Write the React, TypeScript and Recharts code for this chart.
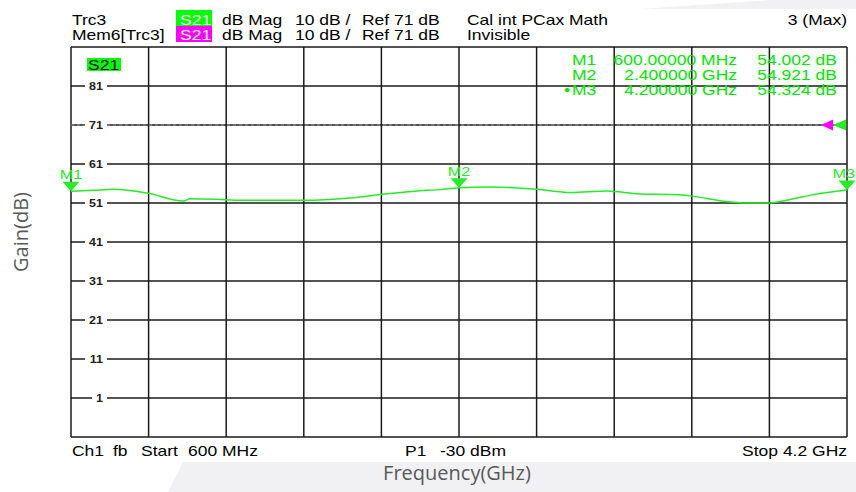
import React from "react";
import {
  LineChart,
  Line,
  XAxis,
  YAxis,
  CartesianGrid,
  ReferenceDot,
  ReferenceLine,
} from "recharts";

// trace
const freqGHz = [
  0.6, 0.705, 0.798, 0.953, 1.122, 1.153, 1.277, 1.385, 1.679, 1.895, 2.035,
  2.205, 2.313, 2.4, 2.545, 2.761, 2.917, 3.086, 3.24, 3.395, 3.488, 3.627,
  3.735, 3.828, 3.936, 4.044, 4.2,
];
const gainDb = [
  54.0, 54.25, 54.5, 53.56, 51.5, 52.1, 51.95, 51.7, 51.7, 52.3, 53.15, 54.1,
  54.43, 54.92, 55.1, 54.5, 53.67, 54.08, 53.3, 53.15, 52.7, 51.45, 51.0, 51.0,
  51.9, 53.15, 54.32,
];

const yTicks = [-9, 1, 11, 21, 31, 41, 51, 61, 71, 81, 91];
const xTicks = [0.6, 0.96, 1.32, 1.68, 2.04, 2.4, 2.76, 3.12, 3.48, 3.84, 4.2];
const refLevel = 71;

const markerNames = ["M1", "M2", "M3"];
const markerFreq = [0.6, 2.4, 4.2];
const markerGain = [54.002, 54.921, 54.324];
const markerFreqText = ["600.00000 MHz", "2.400000 GHz", "4.200000 GHz"];

const data = freqGHz.map((f, i) => ({ f, g: gainDb[i] }));

const GREEN = "#22ee22";
const TXT = "#00e600";
const FONT = "'Liberation Sans', Arial, sans-serif";

// screen font on the VNA is wider than Arial, so stretch it a bit
const ST = ({ x, y, anchor = "start", size = 14, fill = "#000", weight = "normal", children }: any) => (
  <text
    transform={`translate(${x} ${y}) scale(1.25 1)`}
    textAnchor={anchor}
    fontSize={size}
    fontFamily={FONT}
    fontWeight={weight}
    fill={fill}
  >
    {children}
  </text>
);

const GainTick = ({ x, y, payload }: any) => {
  const v = payload.value;
  if (v < 0 || v > 85) return null;
  const label = String(v);
  const w = 8 + label.length * 7;
  return (
    <g>
      <rect x={x + 36 - w} y={y - 2} width={w} height={4} fill="#fff" />
      <ST x={x + 32} y={y + 3.5} anchor="end" size={10} weight="bold" fill="#222">
        {label}
      </ST>
    </g>
  );
};

const MarkerShape = ({ cx, cy, name, last }: any) => (
  <g>
    <polygon points={`${cx - 8.5},${cy - 9.5} ${cx + 8.5},${cy - 9.5} ${cx},${cy}`} fill={GREEN} />
    <ST x={last ? 855 : cx} y={cy - 12} anchor={last ? "end" : "middle"} size={13} fill={GREEN}>
      {name}
    </ST>
  </g>
);

const RefArrows = ({ cx, cy }: any) => (
  <g>
    <polygon points={`${cx - 26},${cy} ${cx - 14},${cy - 5.5} ${cx - 14},${cy + 5.5}`} fill="#ff00ff" />
    <polygon points={`${cx - 14},${cy} ${cx - 1},${cy - 5.5} ${cx - 1},${cy + 5.5}`} fill={GREEN} />
  </g>
);

const vGrid = ({ xAxis, offset }: any) =>
  xAxis && typeof xAxis.scale === "function"
    ? xTicks.map((t) => xAxis.scale(t))
    : xTicks.map((t) => offset.left + ((t - 0.6) / 3.6) * offset.width);

export default function App() {
  return (
    <div style={{ position: "absolute", left: 0, top: 0, width: 856, height: 492, background: "#fff" }}>
      <svg width={856} height={492} style={{ position: "absolute", left: 0, top: 0 }}>
        <polygon points="640,9 856,9 856,0 770,0" fill="#f1f1f4" />
        <polygon points="183,462 856,462 856,492 168,492" fill="#f1f1f4" />
      </svg>

      <div style={{ position: "absolute", left: 0, top: 0 }}>
        <LineChart
          width={856}
          height={492}
          data={data}
          margin={{ top: 47, right: 9, bottom: 54, left: 41 }}
        >
          <CartesianGrid
            stroke="#1a1a1a"
            strokeWidth={1.5}
            verticalCoordinatesGenerator={vGrid}
          />
          <ReferenceLine y={refLevel} stroke="#9a9a9a" strokeDasharray="3 3" />
          <XAxis
            type="number"
            dataKey="f"
            domain={[0.6, 4.2]}
            ticks={xTicks}
            tick={() => <g />}
            axisLine={false}
            tickLine={false}
            height={1}
          />
          <YAxis
            type="number"
            domain={[-9, 91]}
            ticks={yTicks}
            width={30}
            tickSize={0}
            tickMargin={0}
            axisLine={false}
            tickLine={false}
            tick={(p: any) => <GainTick {...p} />}
            interval={0}
          />
          <Line
            type="monotone"
            dataKey="g"
            stroke={GREEN}
            strokeWidth={1.5}
            dot={false}
            isAnimationActive={false}
          />
          {markerNames.map((m, i) => (
            <ReferenceDot
              key={m}
              x={markerFreq[i]}
              y={markerGain[i]}
              r={1}
              ifOverflow="visible"
              shape={(p: any) => <MarkerShape {...p} name={m} last={i === markerNames.length - 1} />}
            />
          ))}
          <ReferenceDot
            x={4.2}
            y={refLevel}
            r={1}
            ifOverflow="visible"
            shape={(p: any) => <RefArrows {...p} />}
          />
        </LineChart>
      </div>

      <svg width={856} height={492} style={{ position: "absolute", left: 0, top: 0, pointerEvents: "none" }}>
        {/* header */}
        <ST x={72} y={25}>Trc3</ST>
        <ST x={72} y={40}>Mem6[Trc3]</ST>
        <rect x={176} y={10} width={36} height={16} fill="#00ff00" />
        <rect x={176} y={26} width={36} height={16} fill="#ff00ff" />
        <ST x={180} y={25} fill="#fff">S21</ST>
        <ST x={180} y={40} fill="#fff">S21</ST>
        <ST x={222} y={25}>dB Mag</ST>
        <ST x={222} y={40}>dB Mag</ST>
        <ST x={295} y={25}>10 dB /</ST>
        <ST x={295} y={40}>10 dB /</ST>
        <ST x={362} y={25}>Ref 71 dB</ST>
        <ST x={362} y={40}>Ref 71 dB</ST>
        <ST x={467} y={25}>Cal int PCax Math</ST>
        <ST x={467} y={40}>Invisible</ST>
        <ST x={847} y={25} anchor="end">3 (Max)</ST>

        {/* trace label in plot */}
        <rect x={87} y={58} width={34} height={13} fill="#00ff00" />
        <ST x={88} y={69.5}>S21</ST>

        {/* marker table */}
        {markerNames.map((m, i) => (
          <g key={m}>
            {i === 2 && <ST x={564} y={65 + i * 15.2} fill={TXT}>•</ST>}
            <ST x={572} y={65 + i * 15.2} fill={TXT}>{m}</ST>
            <ST x={737} y={65 + i * 15.2} anchor="end" fill={TXT}>{markerFreqText[i]}</ST>
            <ST x={837} y={65 + i * 15.2} anchor="end" fill={TXT}>{markerGain[i].toFixed(3) + " dB"}</ST>
          </g>
        ))}

        {/* footer */}
        <ST x={72} y={456}>Ch1</ST>
        <ST x={113} y={456}>fb</ST>
        <ST x={141} y={456}>Start</ST>
        <ST x={188} y={456}>600 MHz</ST>
        <ST x={405} y={456}>P1</ST>
        <ST x={440} y={456}>-30 dBm</ST>
        <ST x={847} y={456} anchor="end">Stop  4.2 GHz</ST>

        {/* axis titles */}
        <text x={457} y={480} textAnchor="middle" fontSize={20} fontFamily="'Open Sans', sans-serif" fill="#595959">
          Frequency(GHz)
        </text>
        <text
          transform="translate(28 232) rotate(-90)"
          textAnchor="middle"
          fontSize={20}
          fontFamily="'Open Sans', sans-serif"
          fill="#595959"
        >
          Gain(dB)
        </text>
      </svg>
    </div>
  );
}
